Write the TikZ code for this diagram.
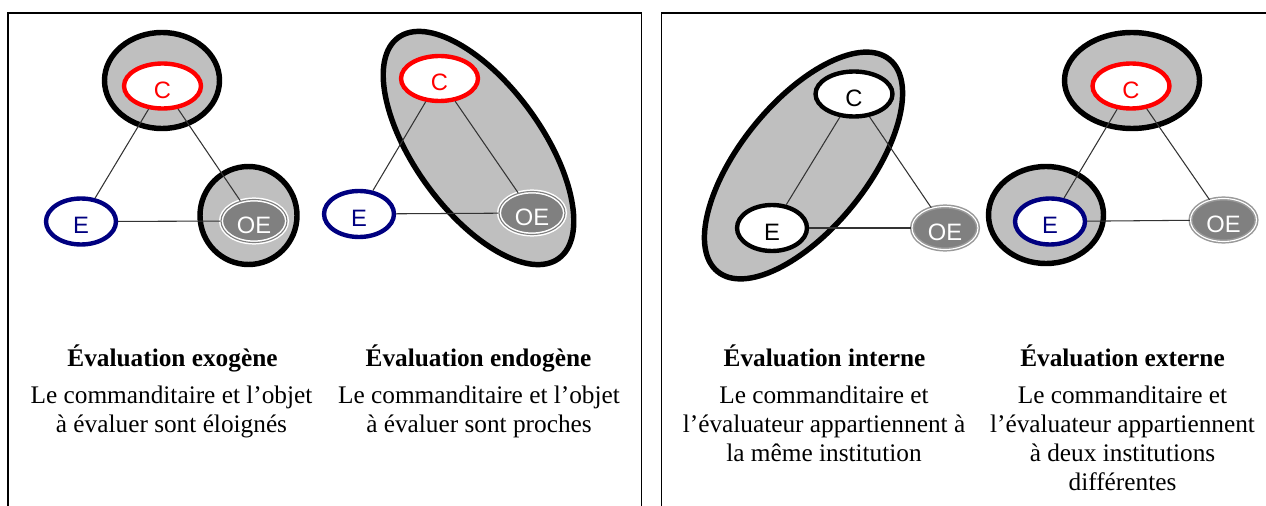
\documentclass[tikz,border=0pt]{standalone}
\usepackage{fontspec}
\setmainfont{Liberation Serif}
\newfontfamily\sansetiquette{Liberation Sans}
\usetikzlibrary{shapes.geometric}

\definecolor{grisgroupe}{gray}{0.75}
\definecolor{grisobjet}{gray}{0.5}
\definecolor{bleueval}{rgb}{0,0,0.5}

\tikzset{
  acteur/.style={ellipse, draw, line width=2.5pt, fill=white, inner sep=0pt,
    minimum width=1.40cm, minimum height=0.92cm, text height=14pt, text depth=0pt,
    font=\sansetiquette\fontsize{13.5}{13.5}\selectfont},
  commande/.style={acteur, minimum width=1.54cm, minimum height=0.90cm},
  objet/.style={acteur, fill=grisobjet, text=white, line width=0.85pt,
    double distance=0.65pt, minimum width=1.32cm, minimum height=0.86cm},
  objetvu/.style={objet, draw=white, double=grisobjet},
  objetpale/.style={objet, draw=grisobjet!80, double=white},
  groupe/.style={draw=black, line width=3.1pt, fill=grisgroupe},
  lien/.style={line width=0.6pt, black!80},
  titre/.style={anchor=base, font=\bfseries\fontsize{14.4}{16.5}\selectfont},
  % base of a multi-line node = baseline of its last line
  texte/.style={anchor=base, align=center, font=\fontsize{14.4}{16.5}\selectfont},
  cadre/.style={line width=0.6pt}
}

\begin{document}
\begin{tikzpicture}[x=0.02cm, y=-0.02cm]
\useasboundingbox (0,0) rectangle (1266,506);

% Two frames
\draw[cadre] (8,520) -- (8,13) -- (641.5,13) -- (641.5,520);
\draw[cadre] (661.5,520) -- (661.5,13) -- (1280,13);

% Exogenous evaluation
\draw[groupe] (162,80.5) ellipse (57.5 and 48);
\draw[groupe] (248.5,215.5) ellipse (48.5 and 49);
\node[commande, draw=red, text=red] (C1) at (162.5,86) {C};
\node[acteur, draw=bleueval, text=bleueval] (E1) at (81,221.5) {E};
\node[objetvu] (OE1) at (254,221) {OE};
\draw[lien] (C1) -- (E1);
\draw[lien] (C1) -- (OE1);
\draw[lien] (E1) -- (OE1);

% Endogenous evaluation
\draw[groupe, rotate around={-54:(478.5,148)}] (478.5,148) ellipse (136.5 and 63.5);
\node[commande, draw=red, text=red] (C2) at (439.5,78.5) {C};
\node[acteur, draw=bleueval, text=bleueval] (E2) at (359,214) {E};
\node[objetvu] (OE2) at (532,213) {OE};
\draw[lien] (C2) -- (E2);
\draw[lien] (C2) -- (OE2);
\draw[lien] (E2) -- (OE2);

% Internal evaluation
\draw[groupe, rotate around={51:(803.5,165.5)}] (803.5,165.5) ellipse (136.5 and 63.5);
\node[commande] (C3) at (854,94) {C};
\node[acteur] (E3) at (772,228) {E};
\node[objetpale] (OE3) at (945,228) {OE};
\draw[lien] (C3) -- (E3);
\draw[lien] (C3) -- (OE3);
\draw[lien] (E3) -- (OE3);

% External evaluation
\draw[groupe] (1132,80.5) ellipse (67.5 and 48);
\draw[groupe] (1046,215) ellipse (57.5 and 48.5);
\node[commande, draw=red, text=red] (C4) at (1131,86) {C};
\node[acteur, draw=bleueval, text=bleueval] (E4) at (1050,221.5) {E};
\node[objetpale] (OE4) at (1223.5,220) {OE};
\draw[lien] (C4) -- (E4);
\draw[lien] (C4) -- (OE4);
\draw[lien] (E4) -- (OE4);

% Captions
\node[titre] (titre1) at (172.5,366) {Évaluation exogène};
\node[texte] (texte1) at (171.5,432) {Le commanditaire et l’objet\\à évaluer sont éloignés};
\node[titre] (titre2) at (478.5,366) {Évaluation endogène};
\node[texte] (texte2) at (479,432) {Le commanditaire et l’objet\\à évaluer sont proches};
\node[titre] (titre3) at (824.5,366) {Évaluation interne};
\node[texte] (texte3) at (824,461) {Le commanditaire et\\l’évaluateur appartiennent à\\la même institution};
\node[titre] (titre4) at (1122.5,366) {Évaluation externe};
\node[texte] (texte4) at (1122.5,490) {Le commanditaire et\\l’évaluateur appartiennent\\à deux institutions\\différentes};
\end{tikzpicture}
\end{document}
